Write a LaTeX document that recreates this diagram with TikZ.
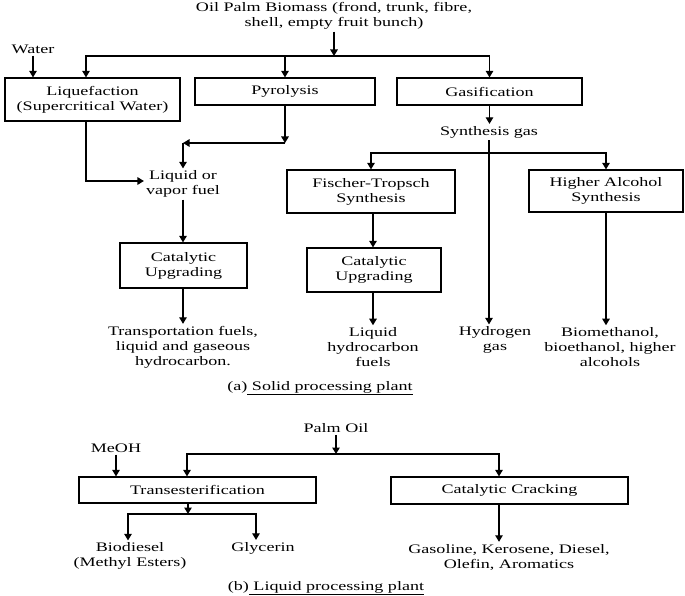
\documentclass[tikz,border=0pt]{standalone}
\usepackage{fontspec}
\setmainfont{Liberation Serif}[FakeStretch=1.39]
\usetikzlibrary{arrows.meta,positioning}

\begin{document}
\begin{tikzpicture}[x=1pt, y=-1pt, font=\fontsize{13}{15}\selectfont]
    % Define block styles
    \tikzstyle{block} = [rectangle, draw, line width=1.2pt, align=center, inner sep=0pt]
    \tikzstyle{txt} = [align=center, inner sep=2pt]
    \tikzstyle{line} = [draw, line width=1.2pt, -{Triangle[width=7.5pt,length=6.5pt]}]

    \useasboundingbox (0,0) rectangle (685,596);

    % (a) Nodes
    \node [txt] (Biomass) at (334,16) {Oil Palm Biomass (frond, trunk, fibre,\\shell, empty fruit bunch)};
    \node [txt] (Water) at (33,49) {Water};
    \node [block, minimum width=175, minimum height=43] (Liquefaction) at (92.5,99.5) {Liquefaction\\(Supercritical Water)};
    \node [block, minimum width=180, minimum height=27] (Pyrolysis) at (285,91.5) {Pyrolysis};
    \node [block, minimum width=185, minimum height=27] (Gasification) at (489.5,91.5) {Gasification};
    \node [txt] (Liquid_Fuel) at (183,184) {Liquid or\\vapor fuel};
    \node [block, minimum width=127, minimum height=45] (Upgrading_A) at (183.5,265.5) {Catalytic\\Upgrading};
    \node [txt] (Transport_Fuels) at (183,347) {Transportation fuels,\\liquid and gaseous\\hydrocarbon.};
    \node [txt] (Synthesis_Gas) at (489,132) {Synthesis gas};
    \node [block, minimum width=168, minimum height=43] (Fischer_Tropsch) at (371,191.5) {Fischer-Tropsch\\Synthesis};
    \node [block, minimum width=134, minimum height=44] (Upgrading_B) at (374,270) {Catalytic\\Upgrading};
    \node [txt] (Liquid_HC) at (373,347) {Liquid\\hydrocarbon\\fuels};
    \node [txt] (Hydrogen) at (495,340) {Hydrogen\\gas};
    \node [block, minimum width=154, minimum height=42] (Higher_Alcohol) at (606,191) {Higher Alcohol\\Synthesis};
    \node [txt] (Alcohols) at (610,347) {Biomethanol,\\bioethanol, higher\\alcohols};
    \node [txt] (Caption_A) at (320,388) {(a)\underline{\ Solid processing plant}};

    % (b) Nodes
    \node [txt] (Palm_Oil) at (336,428) {Palm Oil};
    \node [txt] (MeOH) at (116,448) {MeOH};
    \node [block, minimum width=237, minimum height=26] (Transesterification) at (197.5,490) {Transesterification};
    \node [block, minimum width=237, minimum height=27] (Cracking) at (509.5,490.5) {Catalytic Cracking};
    \node [txt] (Biodiesel) at (130,556) {Biodiesel\\(Methyl Esters)};
    \node [txt] (Glycerin) at (263,548) {Glycerin};
    \node [txt] (Gasoline) at (509,557) {Gasoline, Kerosene, Diesel,\\Olefin, Aromatics};
    \node [txt] (Caption_B) at (326,588) {(b)\underline{\ Liquid processing plant}};

    % Junctions
    \coordinate (Split_A) at (334,56);
    \coordinate (Pyro_Turn) at (Pyrolysis.south |- 0,143);
    \coordinate (Fuel_Turn) at (Liquid_Fuel.north |- 0,143);
    \coordinate (Split_Gas) at (Synthesis_Gas.south |- 0,153);
    \coordinate (Split_B) at (336,454);
    \coordinate (Split_Trans) at (188,514);
    \coordinate (Crack_Out) at (499,504);

    % (a) Arrows
    \path [line] (Biomass) -- (Split_A);
    \path [line] (Split_A) -| ([xshift=-6.5pt]Liquefaction.north);
    \path [line] (Split_A) -| (Pyrolysis.north);
    \path [line] (Split_A) -| (Gasification.north);
    \path [line] (Water) -- (Water |- Liquefaction.north);
    \path [line] (Pyrolysis) -- (Pyro_Turn);
    \path [line] (Pyro_Turn) -- (Fuel_Turn);
    \path [line] (Fuel_Turn) -- (Liquid_Fuel);
    \path [line] ([xshift=-6.5pt]Liquefaction.south) |- ([yshift=3pt]Liquid_Fuel.west);
    \path [line] (Liquid_Fuel) -- (Liquid_Fuel |- Upgrading_A.north);
    \path [line] (Upgrading_A.south -| Liquid_Fuel) -- (Liquid_Fuel |- Transport_Fuels.north);
    \path [line] (Gasification) -- (Gasification |- Synthesis_Gas.north);
    \path [line] (Synthesis_Gas.south) -- (Synthesis_Gas.south |- Hydrogen.north);
    \path [line] (Split_Gas) -| (Fischer_Tropsch.north);
    \path [line] (Split_Gas) -| (Higher_Alcohol.north);
    \path [line] (Fischer_Tropsch.south -| Liquid_HC) -- (Liquid_HC |- Upgrading_B.north);
    \path [line] (Upgrading_B.south -| Liquid_HC) -- (Liquid_HC.north);
    \path [line] (Higher_Alcohol) -- (Higher_Alcohol |- Alcohols.north);

    % (b) Arrows
    \path [line] (Palm_Oil) -- (Split_B);
    \path [line] (Split_B) -| ([xshift=-10.5pt]Transesterification.north);
    \path [line] (Split_B) -| ([xshift=-10.5pt]Cracking.north);
    \path [line] (MeOH) -- (MeOH |- Transesterification.north);
    \path [line] (Transesterification.south -| Split_Trans) -- (Split_Trans);
    \path [line] (Split_Trans) -| ([xshift=-2pt]Biodiesel.north);
    \path [line] (Split_Trans) -| ([xshift=-7pt]Glycerin.north);
    \path [line] (Crack_Out) -- (Crack_Out |- Gasoline.north);

  \end{tikzpicture}
\end{document}
